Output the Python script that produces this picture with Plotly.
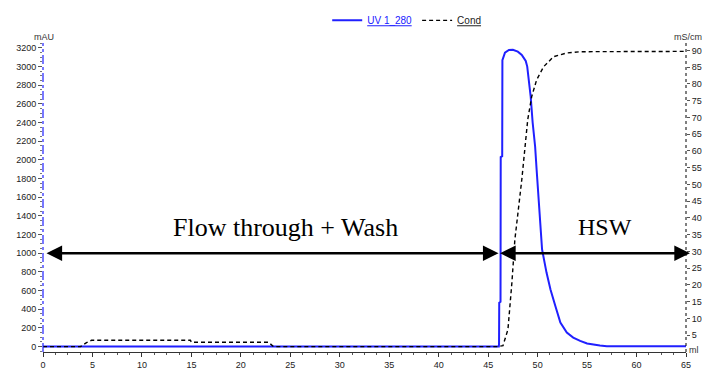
import plotly.graph_objects as go

# ---- data ----
uv_ml = [0, 46.08, 46.1, 46.12, 46.25, 46.27, 46.42, 46.44, 46.7, 47.1, 47.5, 48.0, 48.4, 48.8,
         48.95, 49.1, 49.3, 49.5, 49.75, 49.9, 50.1, 50.3, 50.45, 50.9, 51.3, 51.8, 52.3, 52.95,
         53.6, 54.3, 55.0, 56.3, 57.0, 65.0]
uv_mau = [0, 0, 30, 470, 480, 2030, 2040, 3070, 3150, 3178, 3180, 3160, 3126, 3060,
          3000, 2880, 2677, 2398, 2141, 1895, 1550, 1210, 1040, 792, 610, 431, 257, 150,
          96, 60, 32, 10, 3, 3]

cond_ml = [0, 3.8, 4.4, 4.9, 14.9, 15.0, 22.8, 23.3, 46.0, 46.5, 47.0, 47.2, 47.4, 47.7,
           48.4, 49.0, 49.4, 49.9, 50.6, 51.6, 52.9, 54.3, 65.0]
cond_ms = [1.6, 1.6, 2.8, 3.5, 3.5, 2.9, 2.9, 1.6, 1.6, 1.9, 6.7, 13.6, 20.7, 33.5,
           51.4, 69.3, 76.2, 81.2, 85.1, 88.1, 89.2, 89.6, 89.7]

x_ticks = list(range(0, 70, 5))
left_ticks = list(range(0, 3400, 200))
right_ticks = list(range(5, 95, 5))

# arrows: (start ml, end ml) at level in mAU
arrow_level = 1000
arrow_spans = [(0.2, 46.05), (46.05, 65.4)]
region_labels = ["Flow through + Wash", "HSW"]
label_x = [24.5, 56.8]
label_size = [26, 24]
label_y = 1280

UV_COLOR = "#2020ff"
TICK_FONT = dict(family="Liberation Sans, Arial, sans-serif", size=9, color="#222")

fig = go.Figure()
fig.add_trace(go.Scatter(x=uv_ml, y=uv_mau, mode="lines", name="<u>UV 1_280</u>",
                         line=dict(color=UV_COLOR, width=2), yaxis="y"))
fig.add_trace(go.Scatter(x=cond_ml, y=cond_ms, mode="lines",
                         name="<span style='color:#222'><u>Cond</u></span>",
                         line=dict(color="black", width=1.4, dash="4px,3px"), yaxis="y2"))

for (a, b) in arrow_spans:
    fig.add_annotation(x=b, y=arrow_level, ax=a, ay=arrow_level, xref="x", yref="y",
                       axref="x", ayref="y", text="", showarrow=True,
                       arrowhead=2, startarrowhead=2, arrowside="end+start",
                       arrowwidth=2.5, arrowsize=1.25, startarrowsize=1.25,
                       arrowcolor="black")
for t, xx, sz in zip(region_labels, label_x, label_size):
    fig.add_annotation(x=xx, y=label_y, xref="x", yref="y", text=t, showarrow=False,
                       font=dict(family="Liberation Serif, Times New Roman, serif", size=sz,
                                 color="black"))

fig.add_annotation(x=0, y=1, xref="paper", yref="paper", text="mAU", showarrow=False,
                   xanchor="right", yanchor="bottom", xshift=13, yshift=-1,
                   font=dict(family="Liberation Sans, Arial", size=9, color="#333"))
fig.add_annotation(x=1, y=1, xref="paper", yref="paper", text="mS/cm", showarrow=False,
                   xanchor="left", yanchor="bottom", xshift=-14, yshift=-1,
                   font=dict(family="Liberation Sans, Arial", size=9, color="#333"))
fig.add_annotation(x=1, y=0, xref="paper", yref="paper", text="ml", showarrow=False,
                   xanchor="left", yanchor="middle", xshift=1, yshift=2,
                   font=dict(family="Liberation Sans, Arial", size=9, color="#333"))

# axis lines (dashed blue left, dotted black right)
fig.add_shape(type="line", xref="paper", yref="paper", x0=0, x1=0, y0=0, y1=1,
              line=dict(color=UV_COLOR, width=1.2, dash="dashdot"))
fig.add_shape(type="line", xref="paper", yref="paper", x0=1, x1=1, y0=0, y1=1,
              line=dict(color="black", width=1, dash="dot"))

fig.update_layout(
    width=702, height=370,
    margin=dict(l=43, r=16, t=43, b=18, autoexpand=False),
    paper_bgcolor="white", plot_bgcolor="white",
    showlegend=True,
    legend=dict(orientation="h", x=0.442, y=0.945, xanchor="left", yanchor="middle",
                yref="container", itemwidth=30, tracegroupgap=0,
                font=dict(family="Liberation Sans, Arial", size=10, color=UV_COLOR),
                bgcolor="rgba(0,0,0,0)"),
    xaxis=dict(range=[0, 65], tickvals=x_ticks, showgrid=False, zeroline=False,
               automargin=False,
               showline=True, linecolor="#333", linewidth=1, ticks="outside",
               ticklen=4, tickcolor="#333", tickfont=TICK_FONT,
               minor=dict(dtick=1.25, ticklen=2, ticks="outside", tickcolor="#555")),
    yaxis=dict(range=[-59, 3253], tickvals=left_ticks, showgrid=False, zeroline=False,
               automargin=False,
               showline=False, ticks="outside", ticklen=4, tickcolor="#555",
               tickfont=TICK_FONT,
               minor=dict(dtick=50, ticklen=2, ticks="outside", tickcolor="#777")),
    yaxis2=dict(range=[0, 92.2], tickvals=right_ticks, overlaying="y", side="right",
                automargin=False,
                showgrid=False, zeroline=False, showline=False, ticks="outside",
                ticklen=3, tickcolor="#555", tickfont=TICK_FONT),
)

fig.write_html("out.html")
